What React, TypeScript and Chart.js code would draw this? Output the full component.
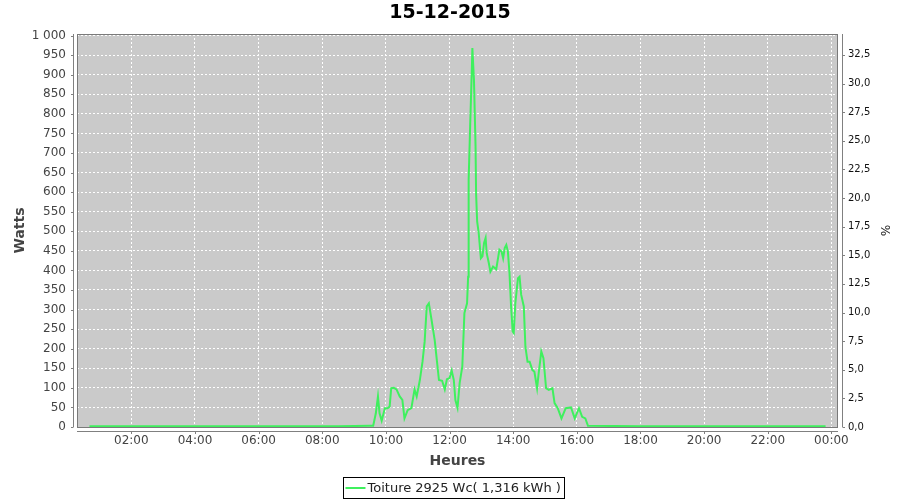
import React, { useEffect, useRef } from "react";
import { Chart, registerables } from "chart.js";

Chart.register(...registerables);

const TITLE = "15-12-2015";
const SERIES_LABEL = "Toiture 2925 Wc( 1,316 kWh )";
const PEAK_POWER_WC = 2925;
const X_TITLE = "Heures";
const Y_TITLE = "Watts";
const Y2_TITLE = "%";

const TIMES = [
  "00:41", "03:00", "06:00", "08:30", "09:30", "09:36", "09:41", "09:45", "09:48", "09:52",
  "09:58", "10:03", "10:07", "10:10", "10:15", "10:20", "10:26", "10:31", "10:35", "10:41",
  "10:48", "10:54", "10:58", "11:04", "11:09", "11:13", "11:17", "11:21", "11:26", "11:32",
  "11:36", "11:40", "11:46", "11:51", "11:55", "12:00", "12:04", "12:08", "12:11", "12:15",
  "12:19", "12:24", "12:28", "12:33", "12:35", "12:36", "12:39", "12:42", "12:43", "12:46",
  "12:49", "12:50", "12:52", "12:55", "12:59", "13:02", "13:05", "13:08", "13:10", "13:14",
  "13:17", "13:22", "13:28", "13:34", "13:38", "13:41", "13:44", "13:47", "13:50", "13:53",
  "13:56", "13:59", "14:01", "14:04", "14:09", "14:12", "14:15", "14:20", "14:23", "14:27",
  "14:31", "14:36", "14:40", "14:45", "14:48", "14:53", "14:57", "15:02", "15:07", "15:14",
  "15:18", "15:24", "15:31", "15:39", "15:49", "15:56", "16:04", "16:10", "16:16", "16:21",
  "18:00", "21:00", "23:49",
];

const WATTS = [
  2, 2, 2, 2, 3, 3, 35, 78, 35, 16,
  48, 48, 52, 99, 100, 96, 78, 69, 22, 43,
  48, 96, 78, 120, 167, 218, 308, 316, 274, 222,
  171, 120, 118, 96, 122, 125, 144, 120, 69, 49,
  112, 154, 291, 316, 384, 632, 777, 913, 968, 887,
  717, 598, 525, 495, 431, 436, 470, 483, 444, 419,
  397, 410, 403, 453, 448, 431, 457, 465, 448, 393,
  308, 244, 240, 316, 380, 384, 338, 308, 205, 167,
  167, 146, 141, 99, 137, 193, 176, 99, 95, 99,
  61, 48, 22, 48, 50, 22, 48, 26, 22, 3,
  2, 2, 2,
];

const X_TICKS = [2, 4, 6, 8, 10, 12, 14, 16, 18, 20, 22, 24];
const Y_TICKS = [0, 50, 100, 150, 200, 250, 300, 350, 400, 450, 500, 550, 600, 650, 700, 750, 800, 850, 900, 950, 1000];
const PCT_TICKS = [0, 2.5, 5, 7.5, 10, 12.5, 15, 17.5, 20, 22.5, 25, 27.5, 30, 32.5];

const X_MIN = 0.292;
const X_MAX = 24.207;
const Y_MAX = 1004;

const FONT = "DejaVu Sans";
const LINE_COLOR = "#3ff05e";

const toHours = (t: string) => {
  const [h, m] = t.split(":").map(Number);
  return h + m / 60;
};

const fmtHour = (v: number) => {
  const h = Math.round(v) % 24;
  return (h < 10 ? "0" : "") + h + ":00";
};

const fmtWatts = (v: number) => String(v).replace(/\B(?=(\d{3})+(?!\d))/g, " ");
const fmtPct = (v: number) => v.toFixed(1).replace(".", ",");

const framePlugin = {
  id: "frame",
  beforeDraw(chart: any) {
    const { ctx, chartArea: a } = chart;
    ctx.save();
    ctx.fillStyle = "#ffffff";
    ctx.fillRect(0, 0, chart.width, chart.height);
    ctx.fillStyle = "#cacaca";
    ctx.fillRect(a.left, a.top, a.right - a.left, a.bottom - a.top);
    ctx.restore();
  },
  beforeDatasetsDraw(chart: any) {
    const { ctx, chartArea: a } = chart;
    ctx.save();
    ctx.strokeStyle = "#7a7a7a";
    ctx.lineWidth = 1;
    ctx.strokeRect(a.left + 0.5, a.top + 0.5, a.right - a.left - 1, a.bottom - a.top);
    ctx.restore();
  },
  afterDraw(chart: any) {
    const { ctx, chartArea: a, scales } = chart;
    ctx.save();
    ctx.strokeStyle = "#808080";
    ctx.lineWidth = 1;
    // left axis
    const lx = a.left - 3.5;
    ctx.beginPath();
    ctx.moveTo(lx, a.top);
    ctx.lineTo(lx, a.bottom);
    scales.y.ticks.forEach((t: any) => {
      const y = Math.round(scales.y.getPixelForValue(t.value)) + 0.5;
      ctx.moveTo(lx - 2.5, y);
      ctx.lineTo(lx, y);
    });
    ctx.stroke();
    // right axis
    const rx = a.right + 4.5;
    ctx.beginPath();
    ctx.moveTo(rx, a.top);
    ctx.lineTo(rx, a.bottom);
    scales.y1.ticks.forEach((t: any) => {
      const y = Math.round(scales.y1.getPixelForValue(t.value)) + 0.5;
      ctx.moveTo(rx, y);
      ctx.lineTo(rx + 2.5, y);
    });
    ctx.stroke();
    // bottom axis
    const by = a.bottom + 4.5;
    ctx.beginPath();
    ctx.moveTo(a.left, by);
    ctx.lineTo(a.right, by);
    scales.x.ticks.forEach((t: any) => {
      const x = Math.round(scales.x.getPixelForValue(t.value)) + 0.5;
      ctx.moveTo(x, by);
      ctx.lineTo(x, by + 2.5);
    });
    ctx.stroke();

    // legend
    const ds = chart.data.datasets[0];
    ctx.font = `13px "${FONT}"`;
    const tw = ctx.measureText(ds.label).width;
    const bw = 2 + 20 + 2 + tw + 4;
    const cx = 453.5;
    const bx = Math.round(cx - bw / 2) + 0.5;
    const byTop = 477.5;
    const bh = 21;
    ctx.strokeStyle = "#000000";
    ctx.lineWidth = 1;
    ctx.strokeRect(bx, byTop, Math.round(bw), bh);
    ctx.strokeStyle = ds.borderColor;
    ctx.lineWidth = 2;
    ctx.beginPath();
    ctx.moveTo(bx + 2, byTop + bh / 2);
    ctx.lineTo(bx + 22, byTop + bh / 2);
    ctx.stroke();
    ctx.fillStyle = "#222222";
    ctx.textBaseline = "middle";
    ctx.textAlign = "left";
    ctx.fillText(ds.label, bx + 24, byTop + bh / 2 + 0.5);
    ctx.restore();
  },
};

export default function App() {
  const ref = useRef<HTMLCanvasElement | null>(null);

  useEffect(() => {
    if (!ref.current) return;
    Chart.defaults.font.family = FONT;
    const points = TIMES.map((t, i) => ({ x: toHours(t), y: WATTS[i] }));
    const chart = new Chart(ref.current, {
      type: "line",
      data: {
        datasets: [
          {
            label: SERIES_LABEL,
            data: points,
            borderColor: LINE_COLOR,
            backgroundColor: LINE_COLOR,
            borderWidth: 2,
            pointRadius: 0,
            tension: 0,
            fill: false,
            yAxisID: "y",
          },
        ],
      },
      options: {
        responsive: false,
        animation: false,
        devicePixelRatio: 1,
        layout: { padding: 0 },
        plugins: {
          legend: { display: false },
          tooltip: { enabled: false },
          title: {
            display: true,
            text: TITLE,
            color: "#000000",
            font: { family: FONT, size: 19, weight: "bold", lineHeight: 1.2 },
            padding: { top: 2, bottom: 9.2 },
          },
        },
        scales: {
          x: {
            type: "linear",
            position: "bottom",
            min: X_MIN,
            max: X_MAX,
            afterBuildTicks: (s: any) => {
              s.ticks = X_TICKS.map((v) => ({ value: v }));
            },
            afterFit: (s: any) => {
              s.height = 73;
            },
            ticks: {
              autoSkip: false,
              maxRotation: 0,
              padding: 7,
              color: "#444444",
              font: { family: FONT, size: 12 },
              callback: (v: any) => fmtHour(Number(v)),
            },
            grid: { color: "#ffffff", lineWidth: 1, drawTicks: false },
            border: { display: false, dash: [2, 2] },
            title: {
              display: true,
              text: X_TITLE,
              color: "#444444",
              font: { family: FONT, size: 14, weight: "bold" },
              padding: { top: 0, bottom: 30 },
            },
          },
          y: {
            type: "linear",
            position: "left",
            min: 0,
            max: Y_MAX,
            afterBuildTicks: (s: any) => {
              s.ticks = Y_TICKS.map((v) => ({ value: v }));
            },
            afterFit: (s: any) => {
              s.width = 77;
            },
            ticks: {
              autoSkip: false,
              padding: 11,
              color: "#444444",
              font: { family: FONT, size: 12 },
              callback: (v: any) => fmtWatts(Number(v)),
            },
            grid: { color: "#ffffff", lineWidth: 1, drawTicks: false },
            border: { display: false, dash: [2, 2] },
            title: {
              display: true,
              text: Y_TITLE,
              color: "#444444",
              font: { family: FONT, size: 14, weight: "bold" },
              padding: { top: 11.6, bottom: 0 },
            },
          },
          y1: {
            type: "linear",
            position: "right",
            min: 0,
            max: (Y_MAX / PEAK_POWER_WC) * 100,
            afterBuildTicks: (s: any) => {
              s.ticks = PCT_TICKS.map((v) => ({ value: v }));
            },
            afterFit: (s: any) => {
              s.width = 62;
            },
            ticks: {
              autoSkip: false,
              padding: 10,
              color: "#111111",
              font: { family: FONT, size: 10 },
              callback: (v: any) => fmtPct(Number(v)),
            },
            grid: { drawOnChartArea: false, drawTicks: false },
            border: { display: false },
            title: {
              display: true,
              text: Y2_TITLE,
              color: "#222222",
              font: { family: FONT, size: 12 },
              padding: { top: 8.8, bottom: 0 },
            },
          },
        },
      } as any,
      plugins: [framePlugin],
    });
    return () => chart.destroy();
  }, []);

  return (
    <div style={{ position: "fixed", left: 0, top: 0, width: 900, height: 500, background: "#fff" }}>
      <canvas ref={ref} width={900} height={500} />
    </div>
  );
}
